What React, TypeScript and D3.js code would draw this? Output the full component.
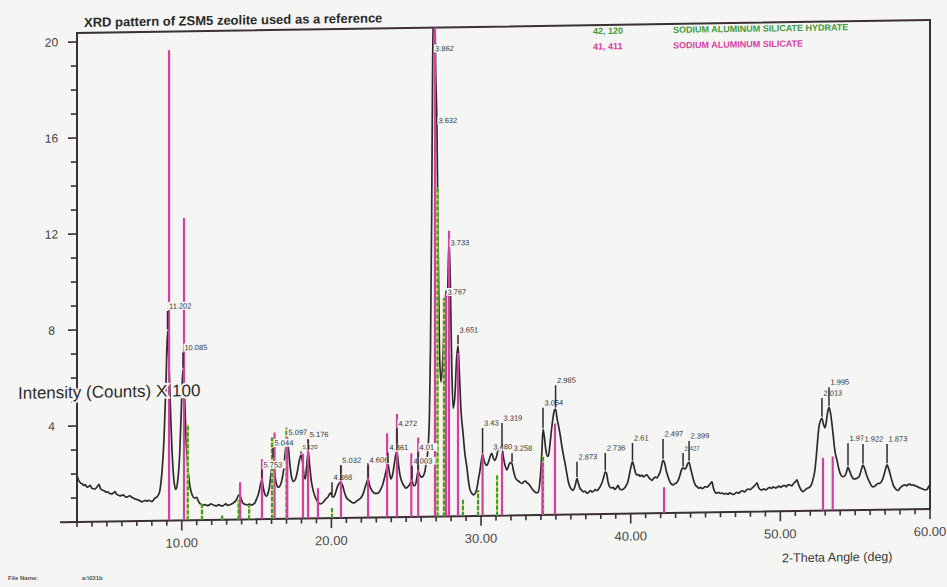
import React, { useEffect, useRef } from 'react';
import * as d3 from 'd3';

const pattern: [number, number][] = [
  [3.0, 1.95], [3.08, 1.78], [3.16, 1.68], [3.25, 1.62], [3.35, 1.58], [3.45, 1.52], [3.55, 1.55], [3.67, 1.45],
  [3.78, 1.47], [3.88, 1.52], [3.98, 1.4], [4.07, 1.38], [4.18, 1.36], [4.3, 1.42], [4.4, 1.5], [4.47, 1.55],
  [4.56, 1.4], [4.66, 1.32], [4.74, 1.3], [4.85, 1.27], [4.95, 1.22], [5.05, 1.24], [5.15, 1.18], [5.25, 1.16],
  [5.35, 1.15], [5.45, 1.2], [5.54, 1.24], [5.63, 1.14], [5.75, 1.1], [5.87, 1.06], [5.98, 1.08], [6.1, 1.1],
  [6.2, 1.04], [6.3, 1.0], [6.41, 1.03], [6.52, 1.06], [6.65, 1.0], [6.76, 0.96], [6.88, 0.92], [7.0, 0.9],
  [7.1, 0.88], [7.22, 0.84], [7.34, 0.8], [7.45, 0.83], [7.56, 0.86], [7.68, 0.82], [7.8, 0.86], [7.9, 0.84],
  [8.0, 0.8], [8.1, 0.86], [8.21, 0.95], [8.32, 0.98], [8.41, 1.05], [8.52, 1.2], [8.61, 1.6], [8.7, 2.2],
  [8.82, 3.5], [8.95, 5.8], [9.05, 7.9], [9.15, 6.5], [9.28, 4.0], [9.41, 2.2], [9.5, 1.55], [9.6, 1.3],
  [9.72, 1.6], [9.85, 2.6], [9.97, 4.6], [10.08, 6.3], [10.2, 5.0], [10.3, 3.2], [10.45, 1.9], [10.55, 1.4],
  [10.7, 1.05], [10.85, 0.92], [11.0, 0.95], [11.1, 0.8], [11.2, 0.7], [11.32, 0.66], [11.45, 0.62], [11.58, 0.64],
  [11.7, 0.6], [11.82, 0.62], [11.95, 0.67], [12.08, 0.63], [12.2, 0.6], [12.32, 0.58], [12.45, 0.63], [12.58, 0.6],
  [12.7, 0.57], [12.82, 0.61], [12.95, 0.66], [13.08, 0.6], [13.2, 0.62], [13.33, 0.65], [13.45, 0.7], [13.57, 0.76],
  [13.68, 0.86], [13.8, 1.02], [13.9, 0.98], [14.0, 0.8], [14.12, 0.66], [14.25, 0.62], [14.4, 0.6], [14.52, 0.64],
  [14.65, 0.6], [14.78, 0.63], [14.9, 0.7], [15.0, 0.85], [15.1, 1.0], [15.2, 1.25], [15.28, 1.5], [15.36, 1.65],
  [15.45, 1.3], [15.55, 1.05], [15.65, 0.95], [15.75, 1.05], [15.85, 1.3], [15.95, 1.8], [16.03, 2.2], [16.1, 2.5],
  [16.18, 2.1], [16.28, 1.6], [16.4, 1.35], [16.5, 1.32], [16.6, 1.42], [16.72, 1.7], [16.82, 2.1], [16.92, 2.8],
  [17.03, 3.3], [17.12, 3.0], [17.22, 2.3], [17.35, 1.7], [17.48, 1.55], [17.6, 1.65], [17.72, 1.95], [17.85, 2.4],
  [17.97, 2.65], [18.08, 2.3], [18.18, 1.75], [18.26, 1.65], [18.35, 2.2], [18.45, 2.8], [18.55, 2.2], [18.65, 1.6],
  [18.75, 1.25], [18.88, 0.95], [19.0, 0.78], [19.12, 0.66], [19.25, 0.6], [19.38, 0.63], [19.5, 0.7], [19.62, 0.8],
  [19.74, 0.86], [19.85, 0.98], [19.95, 1.05], [20.05, 0.9], [20.15, 0.88], [20.25, 1.0], [20.4, 1.3], [20.52, 1.45],
  [20.63, 1.5], [20.75, 1.35], [20.88, 1.05], [21.0, 0.85], [21.15, 0.75], [21.3, 0.68], [21.45, 0.62], [21.58, 0.64],
  [21.7, 0.7], [21.85, 0.76], [22.0, 0.85], [22.12, 1.0], [22.25, 1.25], [22.35, 1.45], [22.45, 1.6], [22.55, 1.35],
  [22.68, 1.15], [22.8, 1.05], [22.92, 1.0], [23.05, 1.0], [23.18, 1.05], [23.3, 1.18], [23.42, 1.35], [23.55, 1.65],
  [23.68, 2.0], [23.78, 2.2], [23.88, 1.85], [23.98, 1.6], [24.08, 1.75], [24.2, 2.2], [24.3, 2.6], [24.38, 2.75],
  [24.48, 2.2], [24.6, 1.7], [24.72, 1.45], [24.85, 1.3], [24.98, 1.2], [25.1, 1.25], [25.2, 1.32], [25.3, 1.45],
  [25.39, 1.5], [25.48, 1.32], [25.58, 1.3], [25.68, 1.5], [25.79, 1.9], [25.9, 1.75], [26.02, 1.65], [26.12, 1.68],
  [26.25, 1.9], [26.35, 2.3], [26.45, 2.8], [26.55, 4.2], [26.62, 7.0], [26.7, 12.5], [26.76, 18.5], [26.82, 21.5],
  [26.9, 21.5], [26.97, 18.5], [27.05, 16.4], [27.13, 11.5], [27.22, 7.0], [27.32, 5.6], [27.45, 6.6], [27.57, 8.6],
  [27.66, 9.4], [27.75, 9.2], [27.86, 11.5], [27.95, 9.6], [28.04, 6.3], [28.13, 4.5], [28.25, 5.0], [28.37, 6.6],
  [28.46, 7.1], [28.55, 6.0], [28.66, 4.4], [28.79, 3.5], [28.92, 2.6], [29.06, 2.0], [29.16, 1.45], [29.26, 1.1],
  [29.38, 0.95], [29.5, 0.88], [29.62, 0.95], [29.72, 1.15], [29.83, 1.55], [29.93, 1.9], [30.02, 2.3], [30.1, 2.55],
  [30.2, 2.3], [30.3, 2.15], [30.4, 2.1], [30.5, 2.25], [30.6, 2.45], [30.72, 2.6], [30.82, 2.4], [30.93, 2.3],
  [31.03, 2.45], [31.13, 2.7], [31.27, 2.75], [31.4, 2.8], [31.5, 2.4], [31.62, 2.05], [31.73, 1.9], [31.83, 2.05],
  [31.95, 2.2], [32.07, 2.15], [32.17, 1.85], [32.28, 1.6], [32.4, 1.47], [32.52, 1.42], [32.63, 1.36], [32.74, 1.33],
  [32.86, 1.4], [32.97, 1.42], [33.07, 1.35], [33.18, 1.3], [33.3, 1.2], [33.4, 1.1], [33.5, 1.03], [33.62, 0.95],
  [33.72, 0.93], [33.82, 0.95], [33.92, 1.3], [34.0, 1.9], [34.07, 2.7], [34.14, 3.55], [34.22, 3.3], [34.32, 2.75],
  [34.42, 2.45], [34.5, 2.45], [34.6, 2.9], [34.7, 3.5], [34.8, 4.0], [34.9, 4.35], [34.98, 4.4], [35.08, 4.0],
  [35.18, 3.7], [35.28, 3.35], [35.4, 2.85], [35.5, 2.5], [35.61, 2.15], [35.72, 1.75], [35.82, 1.4], [35.94, 1.15],
  [36.05, 1.05], [36.14, 1.0], [36.24, 1.1], [36.33, 1.3], [36.41, 1.5], [36.5, 1.3], [36.6, 1.1], [36.74, 1.0],
  [36.85, 0.93], [36.95, 0.97], [37.08, 0.87], [37.2, 0.92], [37.32, 0.98], [37.41, 0.92], [37.52, 0.96], [37.63, 1.02],
  [37.75, 0.98], [37.86, 1.05], [37.97, 1.15], [38.08, 1.3], [38.2, 1.55], [38.3, 1.75], [38.38, 1.7], [38.48, 1.35],
  [38.58, 1.15], [38.7, 1.08], [38.82, 1.1], [38.95, 1.02], [39.06, 1.1], [39.15, 1.18], [39.25, 1.05], [39.37, 1.0],
  [39.49, 1.02], [39.6, 1.08], [39.72, 1.2], [39.82, 1.35], [39.92, 1.65], [40.02, 1.95], [40.12, 2.15], [40.22, 1.95],
  [40.32, 1.7], [40.42, 1.6], [40.52, 1.62], [40.63, 1.55], [40.75, 1.6], [40.86, 1.52], [40.97, 1.57], [41.09, 1.6],
  [41.2, 1.5], [41.31, 1.42], [41.42, 1.37], [41.53, 1.45], [41.65, 1.5], [41.76, 1.47], [41.86, 1.58], [41.96, 1.7],
  [42.06, 1.95], [42.16, 2.2], [42.26, 2.1], [42.38, 1.75], [42.5, 1.5], [42.62, 1.3], [42.73, 1.2], [42.83, 1.17],
  [42.95, 1.22], [43.06, 1.25], [43.17, 1.35], [43.28, 1.55], [43.4, 1.8], [43.5, 1.87], [43.62, 1.82], [43.72, 1.9],
  [43.82, 2.05], [43.9, 2.1], [44.0, 1.85], [44.1, 1.6], [44.2, 1.35], [44.32, 1.15], [44.43, 1.08], [44.55, 1.02],
  [44.66, 1.05], [44.77, 1.0], [44.88, 1.03], [44.99, 1.08], [45.1, 1.05], [45.22, 1.12], [45.33, 1.2], [45.43, 1.27],
  [45.53, 1.0], [45.63, 0.84], [45.75, 0.8], [45.87, 0.83], [46.0, 0.78], [46.12, 0.8], [46.25, 0.75], [46.38, 0.78],
  [46.5, 0.74], [46.62, 0.8], [46.75, 0.76], [46.87, 0.73], [46.98, 0.77], [47.1, 0.82], [47.22, 0.78], [47.35, 0.85],
  [47.48, 0.88], [47.6, 0.83], [47.72, 0.9], [47.85, 0.95], [47.97, 0.92], [48.1, 0.98], [48.22, 1.05], [48.34, 1.12],
  [48.44, 1.2], [48.55, 1.0], [48.66, 0.92], [48.77, 0.9], [48.9, 0.95], [49.02, 0.9], [49.15, 0.95], [49.28, 1.0],
  [49.4, 0.96], [49.52, 1.02], [49.65, 0.98], [49.78, 1.0], [49.9, 1.05], [50.02, 1.0], [50.14, 1.05], [50.26, 1.08],
  [50.4, 1.02], [50.52, 1.1], [50.64, 1.1], [50.76, 1.05], [50.88, 1.15], [51.0, 1.22], [51.11, 1.3], [51.22, 1.1],
  [51.32, 0.95], [51.42, 0.85], [51.51, 0.8], [51.62, 0.86], [51.75, 0.92], [51.87, 0.96], [51.98, 1.0], [52.08, 1.1],
  [52.2, 1.35], [52.31, 1.7], [52.42, 2.4], [52.5, 3.0], [52.58, 3.5], [52.68, 3.75], [52.78, 3.85], [52.88, 3.6],
  [52.98, 3.45], [53.07, 3.7], [53.16, 4.1], [53.25, 4.3], [53.34, 4.1], [53.43, 3.7], [53.52, 3.2], [53.62, 2.6],
  [53.7, 2.3], [53.78, 2.1], [53.9, 1.75], [54.05, 1.47], [54.18, 1.4], [54.32, 1.45], [54.42, 1.6], [54.52, 1.8],
  [54.62, 1.65], [54.74, 1.45], [54.85, 1.33], [54.97, 1.3], [55.08, 1.32], [55.19, 1.35], [55.3, 1.45], [55.42, 1.7],
  [55.52, 1.87], [55.62, 1.75], [55.74, 1.5], [55.86, 1.3], [55.97, 1.15], [56.08, 1.02], [56.19, 0.96], [56.3, 0.98],
  [56.42, 1.05], [56.54, 1.1], [56.66, 1.1], [56.78, 1.2], [56.9, 1.4], [57.01, 1.65], [57.13, 1.87], [57.24, 1.7],
  [57.35, 1.45], [57.46, 1.2], [57.56, 1.0], [57.66, 0.9], [57.76, 0.82], [57.87, 0.8], [57.98, 0.88], [58.09, 0.95],
  [58.2, 1.0], [58.32, 1.02], [58.44, 0.98], [58.55, 1.04], [58.67, 1.05], [58.78, 1.0], [58.9, 1.02], [59.02, 0.97],
  [59.14, 0.95], [59.25, 0.9], [59.36, 0.88], [59.47, 0.85], [59.58, 0.82], [59.7, 0.8], [59.8, 0.82], [59.9, 0.92],
  [60.0, 1.0],
];

// card 41-411, sodium aluminum silicate (2-theta, height)
const silicateLines: [number, number][] = [
  [9.15, 19.6], [10.15, 12.6], [13.9, 1.55], [15.36, 2.5], [16.2, 3.6], [17.05, 3.4], [18.1, 2.7], [18.44, 3.3],
  [19.1, 1.25], [20.64, 2.2], [22.45, 2.27], [23.72, 3.5], [24.38, 4.3], [25.34, 2.65], [25.8, 3.3], [26.92, 20.5],
  [27.66, 9.3], [27.86, 11.9], [28.46, 6.8], [30.1, 2.6], [31.4, 2.6], [34.1, 2.2], [34.94, 3.8], [42.23, 1.08],
  [52.85, 2.2], [53.5, 2.25],
];

// card 42-120, sodium aluminum silicate hydrate
const hydrateLines: [number, number][] = [
  [10.4, 4.0], [11.35, 0.7], [12.7, 0.2], [13.8, 0.8], [14.5, 0.58], [16.03, 3.4], [17.0, 3.8], [20.04, 0.42],
  [27.09, 13.7], [27.52, 9.1], [28.79, 0.7], [29.8, 1.08], [31.07, 1.7], [34.14, 2.45],
];

// peak d-spacing labels: 2-theta, text, level of the label (counts x 100)
const peakLabels: [number, string, number][] = [
  [9.05, '11.202', 8.94], [10.08, '10.085', 7.2], [15.36, '5.753', 2.26], [16.1, '5.044', 3.17],
  [17.03, '5.097', 3.6], [17.97, '5.120', 3.0], [18.45, '5.176', 3.5], [20.04, '4.868', 1.7],
  [20.63, '5.032', 2.4], [22.45, '4.606', 2.4], [23.78, '4.361', 2.9], [24.38, '4.272', 3.9],
  [25.39, '4.003', 2.33], [25.79, '4.01', 2.9], [26.82, '3.862', 19.5], [27.05, '3.632', 16.5],
  [27.66, '3.767', 9.35], [27.86, '3.733', 11.4], [28.46, '3.651', 7.76], [30.1, '3.43', 3.87],
  [30.72, '3.480', 2.87], [31.4, '3.319', 4.06], [32.07, '3.258', 2.8], [34.14, '3.054', 4.67],
  [34.98, '2.985', 5.6], [36.41, '2.873', 2.4], [38.3, '2.736', 2.75], [40.12, '2.61', 3.15],
  [42.16, '2.497', 3.3], [43.5, '2.427', 2.7], [43.9, '2.399', 3.2], [52.78, '2.013', 4.9],
  [53.25, '1.995', 5.35], [54.52, '1.97', 3.0], [55.52, '1.922', 2.96], [57.13, '1.873', 2.95],
];
// labels printed smaller, squeezed under a neighbour
const smallLabels = ['5.120', '2.427'];

const legendCards = ['42, 120', '41, 411'];
const legendNames = ['SODIUM ALUMINUM SILICATE HYDRATE', 'SODIUM ALUMINUM SILICATE'];
const xTickLabels = [10, 20, 30, 40, 50, 60];
const yTickLabels = [4, 8, 12, 16, 20];

const BG = '#f5f5f3';
const MAGENTA = '#d3409f';
const GREEN = '#3f9a3c';
const FONT = '"Liberation Sans", Arial, sans-serif';

export default function App() {
  const ref = useRef<SVGSVGElement>(null);

  useEffect(() => {
    drawChart(ref.current as SVGSVGElement);
  }, []);

  return <svg ref={ref} width={947} height={587} style={{ position: 'absolute', left: 0, top: 0 }} />;
}

function drawChart(el: SVGSVGElement) {
  const svg = d3.select(el);
  svg.selectAll('*').remove();

  const left = 77, right = 930, top = 33, bottom = 522;
  const x = d3.scaleLinear().domain([3, 60]).range([left, right]);
  const y = d3.scaleLinear().domain([0, 20]).range([bottom, 42]);

  svg.append('rect').attr('width', 947).attr('height', 587).attr('fill', BG);

  svg.append('defs').append('clipPath').attr('id', 'plot-clip')
    .append('rect').attr('x', left).attr('y', top).attr('width', right - left).attr('height', bottom - top);

  // the scan is slightly skewed
  const g = svg.append('g').attr('transform', 'translate(0,1.16) skewY(-0.87)');

  // frame
  g.append('rect')
    .attr('x', left).attr('y', top).attr('width', right - left).attr('height', bottom - top)
    .attr('fill', 'none').attr('stroke', '#3b3034').attr('stroke-width', 2);
  g.append('line').attr('x1', 60).attr('x2', left).attr('y1', bottom).attr('y2', bottom)
    .attr('stroke', '#3b3034').attr('stroke-width', 2);

  // y ticks
  g.selectAll('.ytick').data(d3.range(1, 21)).enter().append('line')
    .attr('x1', d => left - (d % 4 === 0 ? 9 : 6)).attr('x2', left)
    .attr('y1', d => y(d)).attr('y2', d => y(d))
    .attr('stroke', '#3b3034').attr('stroke-width', 1.6);
  g.selectAll('.ylab').data(yTickLabels).enter().append('text')
    .attr('x', 51.5).attr('y', d => y(d) + 4.2)
    .attr('text-anchor', 'middle').attr('font-family', FONT).attr('font-size', 12)
    .attr('fill', '#444').text(d => d);

  // x ticks
  g.selectAll('.xtick').data(d3.range(3, 61)).enter().append('line')
    .attr('x1', d => x(d)).attr('x2', d => x(d))
    .attr('y1', bottom).attr('y2', d => bottom + (d % 10 === 0 ? 10 : 5))
    .attr('stroke', '#3b3034').attr('stroke-width', 1.6);
  g.selectAll('.xlab').data(xTickLabels).enter().append('text')
    .attr('x', d => x(d)).attr('y', 549)
    .attr('text-anchor', 'middle').attr('font-family', FONT).attr('font-size', 13)
    .attr('fill', '#4a4a4a').text(d => d.toFixed(2));

  const plot = g.append('g').attr('clip-path', 'url(#plot-clip)');

  // measured pattern
  const line = d3.line<[number, number]>().x(d => x(d[0])).y(d => y(d[1])).curve(d3.curveMonotoneX);
  plot.append('path').datum(pattern).attr('d', line)
    .attr('fill', 'none').attr('stroke', '#2e292b').attr('stroke-width', 1.7);

  // reference card lines
  plot.selectAll('.hyd-base').data(hydrateLines).enter().append('line')
    .attr('x1', d => x(d[0])).attr('x2', d => x(d[0])).attr('y1', bottom).attr('y2', d => y(d[1]))
    .attr('stroke', '#d8d652').attr('stroke-width', 2.2);
  plot.selectAll('.hyd').data(hydrateLines).enter().append('line')
    .attr('x1', d => x(d[0])).attr('x2', d => x(d[0])).attr('y1', bottom).attr('y2', d => y(d[1]))
    .attr('stroke', GREEN).attr('stroke-width', 2.2).attr('stroke-dasharray', '4,2');
  plot.selectAll('.sil').data(silicateLines).enter().append('line')
    .attr('x1', d => x(d[0])).attr('x2', d => x(d[0])).attr('y1', bottom).attr('y2', d => y(d[1]))
    .attr('stroke', MAGENTA).attr('stroke-width', 2.2);

  // peak labels with their marker ticks
  const peakTop = (t: number) =>
    pattern.reduce((best, p) => (Math.abs(p[0] - t) < Math.abs(best[0] - t) ? p : best))[1];
  const fs = (s: string) => (smallLabels.includes(s) ? 6 : 7.5);
  const labels = plot.selectAll('.plab').data(peakLabels).enter().append('g');
  labels.append('rect')
    .attr('x', d => x(d[0]) + 0.5).attr('y', d => y(d[2]) - 4)
    .attr('width', d => d[1].length * fs(d[1]) * 0.56 + 2).attr('height', 8).attr('fill', BG);
  labels.append('text')
    .attr('x', d => x(d[0]) + 1.5).attr('y', d => y(d[2]) + 2.7)
    .attr('font-family', FONT).attr('font-size', d => fs(d[1])).attr('fill', '#333').text(d => d[1]);
  labels.filter(d => y(peakTop(d[0])) - 1.5 > y(d[2]) + 6).append('line')
    .attr('x1', d => x(d[0])).attr('x2', d => x(d[0]))
    .attr('y1', d => y(d[2]) + 5).attr('y2', d => y(peakTop(d[0])) - 1.5)
    .attr('stroke', '#2e292b').attr('stroke-width', 1.5);

  // axis titles
  g.append('text').attr('x', 18).attr('y', 398)
    .attr('font-family', FONT).attr('font-size', 17).attr('fill', '#2d2d2d')
    .attr('stroke', BG).attr('stroke-width', 4).attr('paint-order', 'stroke')
    .text('Intensity (Counts) X 100');
  g.append('text').attr('x', 782).attr('y', 573)
    .attr('font-family', FONT).attr('font-size', 12.5).attr('fill', '#3a3a3a')
    .text('2-Theta Angle (deg)');

  g.append('text').attr('x', 84).attr('y', 27)
    .attr('font-family', FONT).attr('font-size', 13).attr('font-weight', 'bold').attr('fill', '#2a2a2a')
    .text('XRD pattern of ZSM5 zeolite used as a reference');

  // legend
  const legendColors = [GREEN, MAGENTA];
  legendCards.forEach((card, i) => {
    const yy = 42 + i * 15.5;
    g.append('text').attr('x', 593).attr('y', yy)
      .attr('font-family', FONT).attr('font-size', 9).attr('font-weight', 'bold')
      .attr('fill', legendColors[i]).text(card);
    g.append('text').attr('x', 673).attr('y', yy)
      .attr('font-family', FONT).attr('font-size', 9).attr('font-weight', 'bold')
      .attr('fill', legendColors[i]).text(legendNames[i]);
  });

  svg.append('text').attr('x', 8).attr('y', 580)
    .attr('font-family', FONT).attr('font-size', 6).attr('font-weight', 'bold').attr('fill', '#555')
    .text('File Name:');
  svg.append('text').attr('x', 82).attr('y', 580)
    .attr('font-family', FONT).attr('font-size', 6).attr('font-weight', 'bold').attr('fill', '#555')
    .text('a:\\031b');
}
